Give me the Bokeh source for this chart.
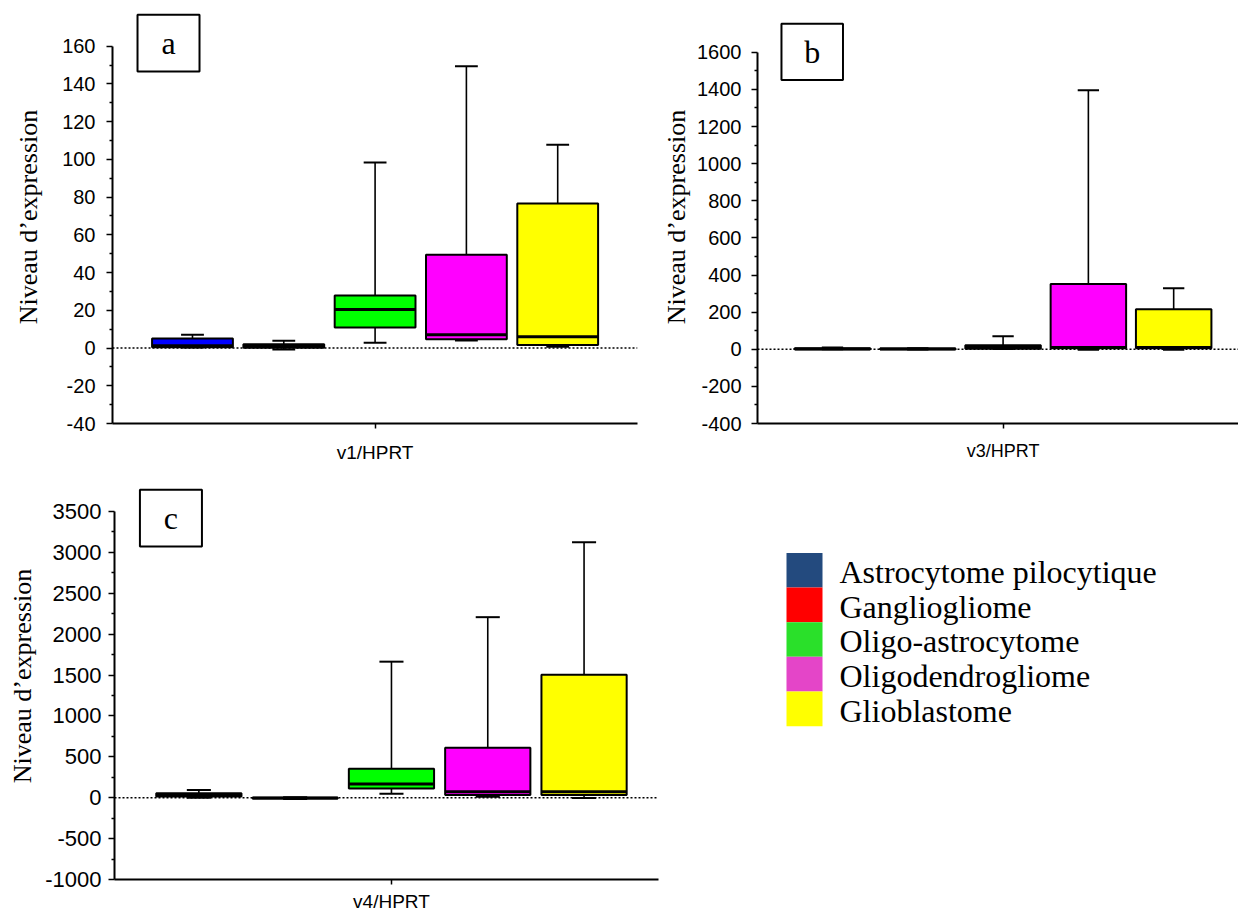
from bokeh.plotting import figure
from bokeh.models import Range1d, FixedTicker, Span
from bokeh.layouts import row, column
from bokeh.core.properties import value
from bokeh.embed import file_html
from bokeh.resources import INLINE

# ---------------- data ----------------
categories = ["Astrocytome pilocytique", "Gangliogliome", "Oligo-astrocytome",
              "Oligodendrogliome", "Glioblastome"]
box_colors = ["#0000FF", "#FF0000", "#00FF00", "#FF00FF", "#FFFF00"]
legend_colors = ["#234A7E", "#FF0000", "#2AE02A", "#E445C8", "#FFFF00"]

# panel a : v1/HPRT
a_min = [0.3, -0.8, 2.8, 4.0, 0.7]
a_q1 = [0.4, 0.1, 10.9, 4.7, 1.6]
a_med = [1.2, 1.0, 20.4, 7.0, 6.0]
a_q3 = [5.0, 2.0, 27.9, 49.4, 76.6]
a_max = [7.0, 3.9, 98.3, 149.3, 107.8]

# panel b : v3/HPRT
b_min = [0, -1, 1, -3, -3]
b_q1 = [0.5, 0, 3, 5, 5]
b_med = [2, 1, 12, 10, 10]
b_q3 = [6, 4, 22, 352, 215]
b_max = [9, 6, 70, 1395, 329]

# panel c : v4/HPRT
c_min = [0, -15, 49, 12, -5]
c_q1 = [15, -10, 114, 33, 33]
c_med = [35, -5, 167, 73, 73]
c_q3 = [55, 0, 354, 610, 1504]
c_max = [95, 5, 1663, 2207, 3122]

a_ticks = [-40, -20, 0, 20, 40, 60, 80, 100, 120, 140, 160]
b_ticks = [-400, -200, 0, 200, 400, 600, 800, 1000, 1200, 1400, 1600]
c_ticks = [-1000, -500, 0, 500, 1000, 1500, 2000, 2500, 3000, 3500]

x_labels = ["v1/HPRT", "v3/HPRT", "v4/HPRT"]
panel_letters = ["a", "b", "c"]
y_title = "Niveau d\u2019expression"

SERIF = "Liberation Serif"
SANS = "Liberation Sans"


def make_panel(mins, q1, med, q3, mx, ticks, xlabel, letter, width, height,
               mbl, mbr, mbt, mbb, x_range, y_range, letter_box,
               tick_font, xlab_font, tick_standoff, label_standoff, xlab_standoff):
    p = figure(width=width, height=height, output_backend="svg",
               toolbar_location=None, title=None,
               x_range=Range1d(*x_range), y_range=Range1d(*y_range),
               min_border_left=mbl, min_border_right=mbr,
               min_border_top=mbt, min_border_bottom=mbb)
    p.outline_line_color = None
    p.grid.visible = False
    pos = [i + 1 for i in range(len(categories))]
    half = 0.885 / 2
    cap = 0.125
    # whiskers
    p.segment(x0=pos, x1=pos, y0=q3, y1=mx, line_color="black", line_width=1.6)
    p.segment(x0=pos, x1=pos, y0=mins, y1=q1, line_color="black", line_width=1.6)
    p.segment(x0=[x - cap for x in pos], x1=[x + cap for x in pos], y0=mx, y1=mx,
              line_color="black", line_width=2)
    p.segment(x0=[x - cap for x in pos], x1=[x + cap for x in pos], y0=mins, y1=mins,
              line_color="black", line_width=2)
    # boxes
    p.quad(left=[x - half for x in pos], right=[x + half for x in pos],
           bottom=q1, top=q3, fill_color=box_colors, line_color="black", line_width=2)
    p.segment(x0=[x - half for x in pos], x1=[x + half for x in pos], y0=med, y1=med,
              line_color="black", line_width=3)
    p.add_layout(Span(location=0, dimension="width", line_color="black",
                      line_width=1.5, line_dash="2 2"))
    # panel letter box
    l, r, b, t = letter_box
    p.quad(left=[l], right=[r], bottom=[b], top=[t], fill_color="white",
           line_color="black", line_width=2)
    p.text(x=[(l + r) / 2], y=[(b + t) / 2], text=[letter], text_align="center",
           text_baseline="middle", text_font=value(SERIF), text_font_size="32px",
           text_color="black")
    # axes
    ya = p.yaxis[0]
    ya.ticker = FixedTicker(ticks=ticks,
                            minor_ticks=[ticks[i] + (ticks[1] - ticks[0]) / 2
                                         for i in range(len(ticks) - 1)])
    ya.major_label_overrides = {t: str(t) for t in ticks}
    ya.bounds = (ticks[0], ticks[-1])
    ya.axis_label = y_title
    ya.axis_label_text_font = SERIF
    ya.axis_label_text_font_size = "26px"
    ya.axis_label_text_font_style = "normal"
    ya.axis_label_text_color = "black"
    ya.axis_label_standoff = label_standoff
    ya.major_label_text_font = SANS
    ya.major_label_text_font_size = tick_font
    ya.major_label_text_color = "black"
    ya.major_label_standoff = tick_standoff
    ya.axis_line_width = 2
    ya.major_tick_line_width = 1.5
    ya.major_tick_out = 6
    ya.major_tick_in = 0
    ya.minor_tick_out = 3
    ya.minor_tick_in = 0
    ya.minor_tick_line_width = 1.5

    xa = p.xaxis[0]
    xa.ticker = FixedTicker(ticks=[3])
    xa.major_label_overrides = {3: xlabel}
    xa.major_label_text_font = SANS
    xa.major_label_text_font_size = xlab_font
    xa.major_label_text_color = "black"
    xa.major_label_standoff = xlab_standoff
    xa.axis_line_width = 2
    xa.major_tick_out = 5
    xa.major_tick_in = 0
    xa.major_tick_line_width = 1.5
    return p


pa = make_panel(a_min, a_q1, a_med, a_q3, a_max, a_ticks, x_labels[0], panel_letters[0],
                width=640, height=470, mbl=112, mbr=3, mbt=10, mbb=45,
                x_range=(0.124, 5.874), y_range=(-40, 178.9),
                letter_box=(0.398, 1.077, 146.6, 176.7),
                tick_font="20px", xlab_font="19px", tick_standoff=11,
                label_standoff=16, xlab_standoff=13)

pb = make_panel(b_min, b_q1, b_med, b_q3, b_max, b_ticks, x_labels[1], panel_letters[1],
                width=598, height=470, mbl=117, mbr=0, mbt=10, mbb=47,
                x_range=(0.121, 5.76), y_range=(-400, 1825),
                letter_box=(0.402, 1.123, 1451, 1753),
                tick_font="20px", xlab_font="18px", tick_standoff=10,
                label_standoff=3, xlab_standoff=12)

pc = make_panel(c_min, c_q1, c_med, c_q3, c_max, c_ticks, x_labels[2], panel_letters[2],
                width=668, height=444, mbl=114, mbr=10, mbt=2, mbb=34,
                x_range=(0.124, 5.773), y_range=(-1000, 3975.6),
                letter_box=(0.388, 1.032, 3070, 3765),
                tick_font="22px", xlab_font="19px", tick_standoff=7,
                label_standoff=5, xlab_standoff=6)

# ---------------- legend panel ----------------
row_px = 37.8
top_px = 87.7
leg_w = 570
leg_h = 444
pl = figure(width=leg_w, height=leg_h, output_backend="svg", toolbar_location=None,
            title=None, x_axis_location=None, y_axis_location=None,
            x_range=Range1d(0, leg_w),
            y_range=Range1d((leg_h - top_px) / row_px, -top_px / row_px),
            min_border=0)
pl.outline_line_color = None
pl.grid.visible = False
idx = list(range(len(categories)))
pl.quad(left=[118] * len(idx), right=[154] * len(idx),
        top=idx, bottom=[i + 1 for i in idx],
        fill_color=legend_colors, line_color=None)
pl.text(x=[171] * len(idx), y=[i + 0.55 for i in idx], text=categories,
        text_baseline="middle", text_align="left", text_font=value(SERIF),
        text_font_size="32px", text_color="black")

layout = column(row(pa, pb), row(pc, pl))

open("out.html", "w").write(file_html(layout, INLINE))
